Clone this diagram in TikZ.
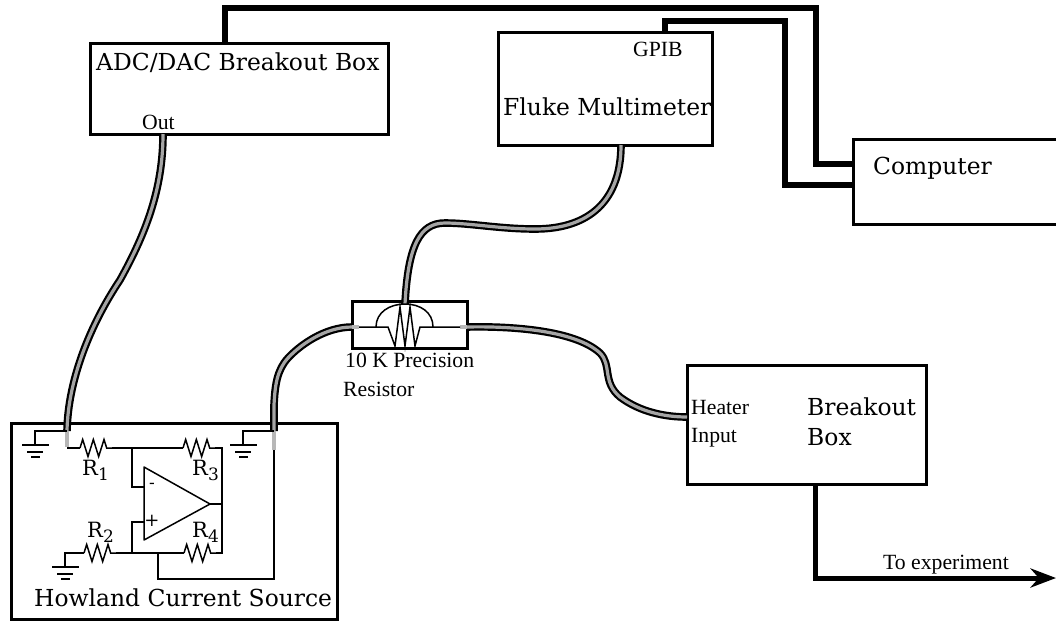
\documentclass[tikz,border=0pt]{standalone}
\usepackage{fontspec}
\setmainfont{DejaVu Serif}
\newfontfamily\timesfont{Liberation Serif}
\usepackage{tikz}
\usetikzlibrary{positioning, arrows.meta, decorations.pathmorphing}
\definecolor{coaxgray}{RGB}{165,165,165}
\newcommand{\rsub}[1]{R\raisebox{-5pt}{\fontsize{17}{17}\selectfont #1}}

\begin{document}
\begin{tikzpicture}[
  x=1pt, y=-1pt,
  box/.style={draw, line width=3pt, anchor=north west, inner sep=0pt, outer sep=0pt},
  lbl/.style={inner sep=0pt, font=\fontsize{23.4}{23.4}\selectfont, anchor=base west},
  small/.style={inner sep=0pt, font=\timesfont\fontsize{21.7}{21.7}\selectfont, anchor=base west},
  rlab/.style={inner sep=0pt, font=\fontsize{21}{21}\selectfont, anchor=base west},
  cable/.style={line width=5.4pt, line cap=butt, line join=miter},
  coax/.style={line width=2.2pt, draw=black, double=coaxgray, double distance=3.2pt},
  stub/.style={line width=3.4pt, draw=coaxgray!80},
  wire/.style={line width=1.5pt},
  resistor/.style={wire, decorate, decoration={zigzag, amplitude=8.5pt, segment length=10.67pt}},
  >={Stealth[]},
]
\useasboundingbox (0,0) rectangle (1056,622);
% instruments
\node[box, minimum width=298pt, minimum height=91pt] (adc) at (90,43) {};
\node[box, minimum width=214pt, minimum height=113pt] (fluke) at (498,32) {};
\node[box, minimum width=215pt, minimum height=85pt] (computer) at (853,139) {};
\node[box, minimum width=239pt, minimum height=119pt] (breakout) at (687,365) {};
\node[box, minimum width=326pt, minimum height=196pt] (howland) at (11,423) {};
\node[box, minimum width=115pt, minimum height=47pt] (prec) at (352,301) {};
% labels
\node[lbl] (adclab) at (96,70) {ADC/DAC Breakout Box};
\node[small] (outlab) at (142,129) {Out};
\node[small] (gpiblab) at (633,56) {GPIB};
\node[lbl] (flukelab) at (503,115) {Fluke Multimeter};
\node[lbl] (complab) at (873,174) {Computer};
\node[lbl] (brklab) at (807,415) {Breakout};
\node[lbl] (boxlab) at (807,445) {Box};
\node[small] (heatlab) at (691,414) {Heater};
\node[small] (inlab) at (691,442) {Input};
\node[small] (preclab) at (345,367) {10 K Precision};
\node[small] (reslab) at (343,396) {Resistor};
\node[small] (explab) at (883,569) {To experiment};
\node[lbl] (howlab) at (34,606) {Howland Current Source};
\node[rlab] (r1lab) at (82,475) {\rsub{1}};
\node[rlab] (r2lab) at (87,537) {\rsub{2}};
\node[rlab] (r3lab) at (192,475) {\rsub{3}};
\node[rlab] (r4lab) at (192,537) {\rsub{4}};
\node[lbl, font=\fontsize{17}{17}\selectfont, anchor=center] (minus) at (152,486) {-};
\node[lbl, font=\fontsize{18}{18}\selectfont, anchor=center] (plus) at (152,521) {+};
% terminals
\coordinate (dacin) at (67,431);
\coordinate (srcout) at (274,431);
\coordinate (precl) at (352,327);
\coordinate (precr) at (467,327);
\coordinate (prect) at (405,304);
\coordinate (heatin) at (687,417);
\coordinate (dacout) at (163,134);
\coordinate (flukeout) at (621,145);
% digital lines
\draw[cable] (225,43) |- (816,8) |- (853,164);
\draw[cable] (665,32) |- (785,21) |- (853,185);
\draw[cable, ->, line width=5pt] (815,484) |- (1056,578);
% coax
\draw[coax] (dacout) .. controls (163,190) and (145,235) .. (120,280) .. controls (90,325) and (68,380) .. (dacin);
\draw[coax] (srcout) -- (274,405) .. controls (275,385) and (277,370) .. (288,358) .. controls (300,345) and (325,327) .. (precl);
\draw[coax] (flukeout) .. controls (621,200) and (590,229) .. (535,229) .. controls (500,229) and (470,223) .. (445,223) .. controls (420,223) and (408,245) .. (prect);
\draw[coax] (precr) .. controls (510,326) and (575,330) .. (600,353) .. controls (612,365) and (602,382) .. (620,397) .. controls (640,412) and (665,417) .. (heatin);
\draw[stub] (dacin) -- (67,447);
\draw[stub] (srcout) -- (274,450);
\draw[stub] (precl) -- (359,327);
\draw[stub] (precr) -- (460,327);
% precision resistor
\draw[wire] (359,327) -- (388,327) -- (395,346) -- (400,307) -- (405,346) -- (410,307) -- (415,346) -- (420,327) -- (460,327);
\draw[wire] (376,327) .. controls (376,312) and (390,304) .. (prect) .. controls (420,304) and (433,312) .. (433,327);
% grounds
\foreach \gx/\gy/\tx in {35/431/67, 243/431/274, 65/553/84}{
  \draw[wire] (\tx,\gy) -- (\gx,\gy) -- (\gx,\gy+14);
  \draw[wire] (\gx-13,\gy+14) -- (\gx+14,\gy+14);
  \draw[wire] (\gx-8,\gy+21) -- (\gx+8,\gy+21);
  \draw[wire] (\gx-4,\gy+26) -- (\gx+5,\gy+26);
}
% op amp
\coordinate (opm) at (144,487);
\coordinate (opp) at (144,522);
\coordinate (opo) at (210,504);
\draw[wire, line join=round] (144,467) -- (144,540) -- (opo) -- cycle;
\draw[resistor] (80,448) -- (112,448);
\draw[resistor] (183,448) -- (215,448);
\draw[resistor] (84,553) -- (116,553);
\draw[resistor] (184,553) -- (216,553);
\draw[wire] (67,448) -- (80,448);
\draw[wire] (112,448) -- (183,448);
\draw[wire] (215,448) -- (222,448) -- (222,553) -- (216,553);
\draw[wire] (opo) -- (222,504);
\draw[wire] (116,553) -- (184,553);
\draw[wire] (132,448) |- (opm);
\draw[wire] (132,553) |- (opp);
\draw[wire] (158,553) |- (274,579) -- (274,450);
\end{tikzpicture}
\end{document}
